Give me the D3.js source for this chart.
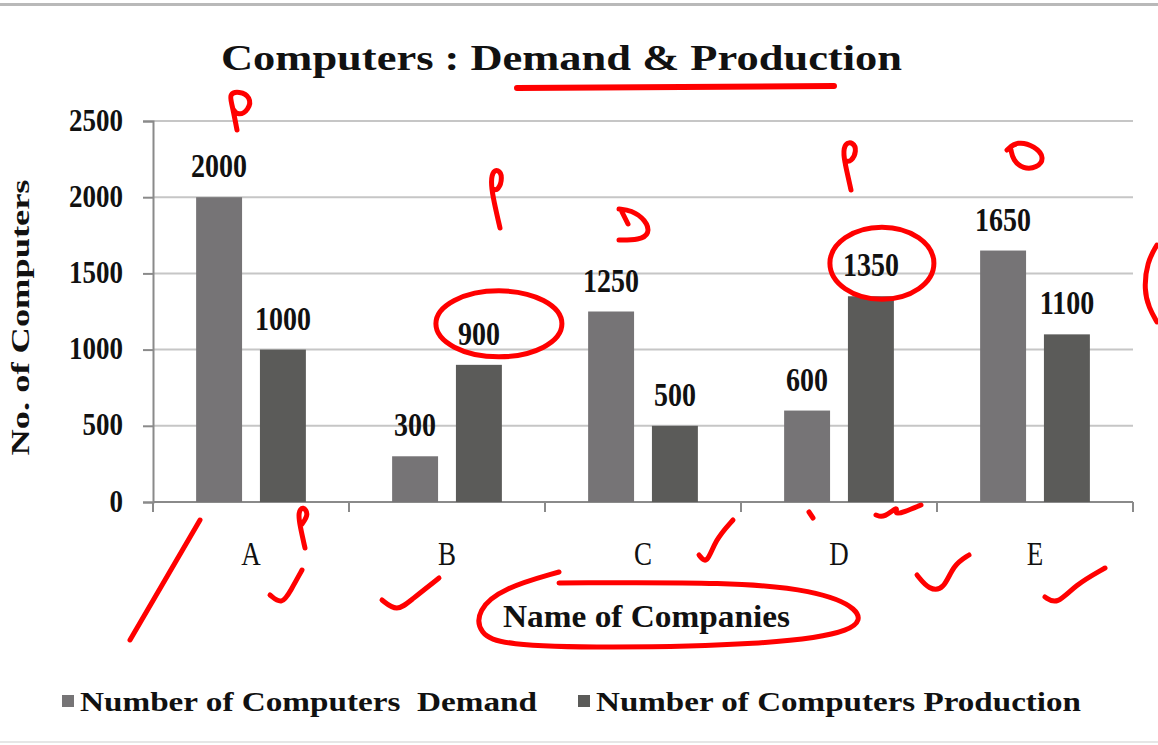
<!DOCTYPE html>
<html>
<head>
<meta charset="utf-8">
<script src="https://cdn.jsdelivr.net/npm/d3@7"></script>
<style>
  html, body { margin: 0; padding: 0; background: #fff; }
  svg text { font-family: "Liberation Serif", "DejaVu Serif", serif; fill: #111; }
</style>
</head>
<body>
<svg id="chart" width="1158" height="745"></svg>
<script>
/* Computers: Demand & Production — grouped bar chart */

const companies  = ["A", "B", "C", "D", "E"];
const demand     = [2000, 300, 1250, 600, 1650];
const production = [1000, 900, 500, 1350, 1100];
const seriesNames = ["Number of Computers  Demand", "Number of Computers Production"];
const yTicks     = [0, 500, 1000, 1500, 2000, 2500];

const W = 1158, H = 745;
const LEFT = 153, RIGHT = 1133, TOP = 121, BOTTOM = 502;
const COLORS = ["#767476", "#5b5b59"];
const RED = "#ff0000";
const STRETCH = 1.2;   // the source image is a bit taller than wide in its lettering

const svg = d3.select("#chart");

// ── Frame lines (screenshot edges) ──
svg.append("rect").attr("x", 0).attr("y", 3).attr("width", W).attr("height", 3).attr("fill", "#b9b9b9");
svg.append("rect").attr("x", 0).attr("y", 741).attr("width", W).attr("height", 2).attr("fill", "#e6e6e6");

// ── Scales ──
const x = d3.scaleBand().domain(companies).range([LEFT, RIGHT]);
const bw = x.bandwidth();
const xs = d3.scaleBand().domain([0, 1]).range([bw * 0.22, bw * 0.78]).paddingInner(0.28);
const y = d3.scaleLinear().domain([0, 2500]).range([BOTTOM, TOP]);

// ── Gridlines ──
svg.append("g")
  .selectAll("line")
  .data(yTicks.filter(d => d > 0))
  .join("line")
  .attr("x1", LEFT).attr("x2", RIGHT)
  .attr("y1", d => y(d)).attr("y2", d => y(d))
  .attr("stroke", "#c6c6c6").attr("stroke-width", 2);

// ── Y axis ──
const yAxis = svg.append("g")
  .attr("transform", `translate(${LEFT},0)`)
  .call(d3.axisLeft(y).tickValues(yTicks).tickFormat(d3.format("d")).tickSize(10).tickPadding(0));
yAxis.select(".domain").attr("stroke", "#8a8a8a").attr("stroke-width", 2);
yAxis.selectAll(".tick line").attr("stroke", "#8a8a8a").attr("stroke-width", 2);
yAxis.selectAll(".tick text")
  .attr("x", null).attr("dy", null)
  .attr("transform", `translate(-30,9) scale(1,${STRETCH})`)
  .attr("font-family", "Liberation Serif")
  .attr("font-size", 27).attr("font-weight", "bold").attr("fill", "#111");

// ── X axis (ticks on band boundaries) ──
svg.append("line")
  .attr("x1", LEFT).attr("x2", RIGHT).attr("y1", BOTTOM).attr("y2", BOTTOM)
  .attr("stroke", "#8a8a8a").attr("stroke-width", 2);
svg.append("g")
  .selectAll("line")
  .data(companies.concat(["end"]))
  .join("line")
  .attr("x1", (d, i) => LEFT + i * x.step()).attr("x2", (d, i) => LEFT + i * x.step())
  .attr("y1", BOTTOM).attr("y2", BOTTOM + 10)
  .attr("stroke", "#8a8a8a").attr("stroke-width", 2);

svg.append("g")
  .selectAll("text")
  .data(companies)
  .join("text")
  .attr("transform", d => `translate(${x(d) + bw / 2},565) scale(1,1.25)`)
  .attr("text-anchor", "middle")
  .attr("font-size", 27)
  .attr("fill", "#222")
  .text(d => d);

// ── Bars ──
const rows = companies.map((c, i) => ({ c, vals: [demand[i], production[i]] }));
const groups = svg.append("g").selectAll("g")
  .data(rows)
  .join("g")
  .attr("transform", d => `translate(${x(d.c)},0)`);

groups.selectAll("rect")
  .data(d => d.vals.map((v, s) => ({ v, s })))
  .join("rect")
  .attr("x", d => xs(d.s))
  .attr("y", d => y(d.v))
  .attr("width", xs.bandwidth())
  .attr("height", d => y(0) - y(d.v))
  .attr("fill", d => COLORS[d.s]);

groups.selectAll("text")
  .data(d => d.vals.map((v, s) => ({ v, s })))
  .join("text")
  .attr("transform", d => `translate(${xs(d.s) + xs.bandwidth() / 2},${y(d.v) - 20}) scale(1,${STRETCH})`)
  .attr("text-anchor", "middle")
  .attr("font-size", 28).attr("font-weight", "bold")
  .text(d => d.v);

// ── Titles ──
svg.append("text")
  .attr("x", 221).attr("y", 70)
  .attr("font-size", 36).attr("font-weight", "bold")
  .attr("textLength", 681).attr("lengthAdjust", "spacingAndGlyphs")
  .text("Computers : Demand & Production");

svg.append("text")
  .attr("transform", `translate(29,${(TOP + BOTTOM) / 2 + 6}) rotate(-90)`)
  .attr("text-anchor", "middle")
  .attr("font-size", 26).attr("font-weight", "bold")
  .attr("textLength", 276).attr("lengthAdjust", "spacingAndGlyphs")
  .text("No. of Computers");

svg.append("text")
  .attr("transform", `translate(503,627) scale(1,1.1)`)
  .attr("font-size", 28).attr("font-weight", "bold")
  .attr("textLength", 287).attr("lengthAdjust", "spacingAndGlyphs")
  .text("Name of Companies");

// ── Legend ──
const legendX = [62, 578];
const legendW = [457, 485];
const legend = svg.append("g").selectAll("g")
  .data(seriesNames)
  .join("g")
  .attr("transform", (d, i) => `translate(${legendX[i]},0)`);
legend.append("rect")
  .attr("x", 0).attr("y", 695).attr("width", 12).attr("height", 12)
  .attr("fill", (d, i) => COLORS[i]);
legend.append("text")
  .attr("x", 18).attr("y", 711)
  .style("white-space", "pre")
  .attr("font-size", 28).attr("font-weight", "bold")
  .attr("textLength", (d, i) => legendW[i]).attr("lengthAdjust", "spacingAndGlyphs")
  .text(d => d);

// ── Red hand-written annotations (offsets from a category centre on the x axis) ──
const strokes = [
  { cat: "A", pts: [[-14,-372],[-19,-398],[-22,-408],[-12,-411],[0,-405],[-2,-392],[-13,-386],[-18,-393]] },
  { cat: "B", pts: [[53,-274],[47,-300],[44,-317],[45,-330],[51,-333],[56,-325],[51,-311],[46,-313]] },
  { cat: "C", pts: [[-24,-293],[-12,-292],[3,-282],[7,-268],[-4,-262],[-24,-262]] },
  { cat: "C", pts: [[-21,-290],[-15,-278]] },
  { cat: "D", pts: [[12,-312],[8,-330],[4,-348],[6,-359],[14,-360],[18,-351],[12,-340],[7,-341]] },
  { cat: "E", pts: [[-28,-352],[-18,-361],[0,-356],[10,-344],[2,-334],[-12,-333],[-22,-342],[-24,-352]] },
  { cat: "E", pts: [[122,-257],[112,-240],[109,-212],[114,-194],[122,-180]] },
  { cat: "A", pts: [[-121,138],[-51,18]] },
  { cat: "A", pts: [[54,46],[49,24],[47,10],[52,4],[58,12],[51,22]] },
  { cat: "A", pts: [[19,93],[31,103],[40,88],[51,68]] },
  { cat: "B", pts: [[-65,98],[-50,110],[-36,98],[-8,76]] },
  { cat: "C", pts: [[56,53],[64,63],[72,38],[90,18]] },
  { cat: "D", pts: [[-30,10],[-26,16]] },
  { cat: "D", pts: [[37,13],[45,16],[60,3],[55,13],[65,10],[82,3]] },
  { cat: "D", pts: [[78,73],[90,88],[105,88],[114,63],[130,53]] },
  { cat: "E", pts: [[10,95],[22,103],[40,83],[70,66]] },
  { cat: "C", pts: [[-84,70],[-140,86],[-166,108],[-164,132],[-140,143],[-40,146],[120,143],[218,130],[218,106],[170,88],[90,80],[-84,81]] }
];
const ann = svg.append("g")
  .attr("fill", "none").attr("stroke", RED).attr("stroke-width", 5)
  .attr("stroke-linecap", "round").attr("stroke-linejoin", "round");
const pen = d3.line().curve(d3.curveBasis);
ann.selectAll("path.stroke")
  .data(strokes)
  .join("path")
  .attr("class", "stroke")
  .attr("d", d => pen(d.pts.map(p => [x(d.cat) + bw / 2 + p[0], BOTTOM + p[1]])));

// underline under "Demand & Production"
ann.append("line")
  .attr("x1", 517).attr("x2", 834).attr("y1", 88).attr("y2", 86)
  .attr("stroke-width", 6);

// circles round two production labels (B = 900, D = 1350)
const circled = [{ cat: "B", v: production[1], rx: 63, ry: 33, dx: 20, dy: -12 },
                 { cat: "D", v: production[3], rx: 52, ry: 36, dx: 11, dy: -4 }];
ann.selectAll("ellipse")
  .data(circled)
  .join("ellipse")
  .attr("cx", d => x(d.cat) + xs(1) + xs.bandwidth() / 2 + d.dx)
  .attr("cy", d => y(d.v) - 29 + d.dy)
  .attr("rx", d => d.rx).attr("ry", d => d.ry);
</script>
</body>
</html>
